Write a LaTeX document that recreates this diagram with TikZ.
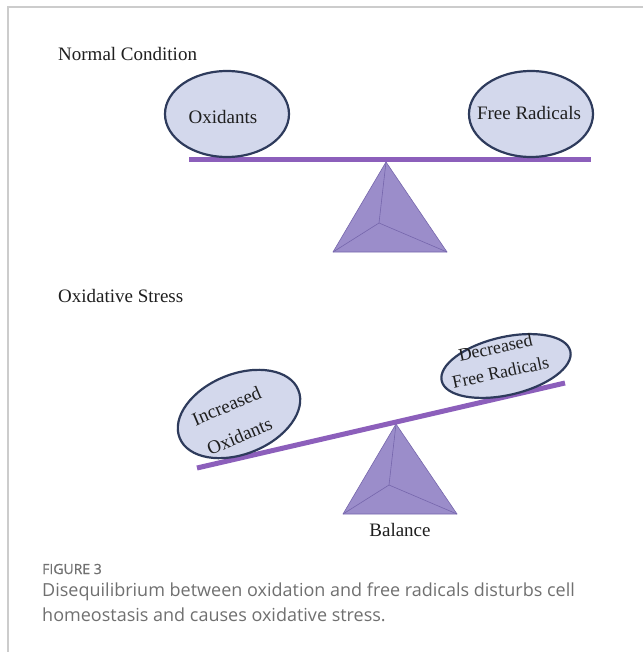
\documentclass[tikz,border=0pt]{standalone}
\usepackage{fontspec}
\setmainfont{Liberation Serif}
\newfontfamily\capfont{Open Sans}
\newfontfamily\capheadfont[FakeBold=0.6]{Open Sans}
\usetikzlibrary{shapes.geometric}
\definecolor{ellfill}{HTML}{D3D8EC}
\definecolor{elldraw}{HTML}{2E3B5C}
\definecolor{beamcol}{HTML}{8C5FBB}
\definecolor{trifill}{HTML}{9B8DCA}
\definecolor{triedge}{HTML}{7666AC}
\definecolor{framecol}{HTML}{CCCCCC}
\definecolor{capgray}{HTML}{707070}
\begin{document}
\begin{tikzpicture}[x=1pt,y=-1pt,
  weight/.style={ellipse, draw=elldraw, fill=ellfill, line width=2.2pt, inner sep=0pt},
  lbl/.style={font=\fontsize{19}{22}\selectfont, align=center, text=black!88, inner sep=0pt},
  heading/.style={font=\fontsize{19}{22}\selectfont, anchor=west, text=black!88, inner sep=0pt},
  beamline/.style={draw=beamcol, line width=5pt},
  pyramid/.style={fill=trifill, draw=triedge, line width=0.6pt, line join=round},
  facet/.style={draw=triedge, line width=0.6pt},
  framestyle/.style={draw=framecol, line width=1.6pt},
  caphead/.style={font=\capheadfont\fontsize{14}{17}\selectfont, text=capgray, anchor=west, inner sep=0pt},
  captext/.style={font=\capfont\fontsize{18}{25}\selectfont, text=capgray, anchor=north west, align=left, inner sep=0pt}]
\useasboundingbox (0,0) rectangle (643,652);
\fill[white] (0,0) rectangle (643,652);
% frame
\coordinate (fTL) at (8,7);
\coordinate (fTR) at (643,7);
\coordinate (fBL) at (8,652);
\draw[framestyle] (fTR) -- (fTL) -- (fBL);

% ---------- Normal condition ----------
\node[heading] (h1) at (58,54) {Normal Condition};
\coordinate (b1L) at (189,160);
\coordinate (b1R) at (591,160);
\coordinate (t1A) at (386,162);
\coordinate (t1L) at (333,252);
\coordinate (t1R) at (447,252);
\coordinate (t1C) at (379,223);
\filldraw[pyramid] (t1A) -- (t1L) -- (t1R) -- cycle;
\draw[facet] (t1C) -- (t1A) (t1C) -- (t1L) (t1C) -- (t1R);
\draw[beamline] (b1L) -- (b1R);
\node[weight, minimum width=124, minimum height=86] (e1) at (227,114) {};
\node[weight, minimum width=124, minimum height=86] (e2) at (531,114) {};
\node[lbl] (l1) at (223,117) {Oxidants};
\node[lbl] (l2) at (529,113) {Free Radicals};

% ---------- Oxidative stress ----------
\node[heading] (h2) at (58,296) {Oxidative Stress};
\coordinate (b2L) at (197,468);
\coordinate (b2R) at (565,383);
\coordinate (t2A) at (396,424);
\coordinate (t2L) at (343,514);
\coordinate (t2R) at (457,514);
\coordinate (t2C) at (389,485);
\filldraw[pyramid] (t2A) -- (t2L) -- (t2R) -- cycle;
\draw[facet] (t2C) -- (t2A) (t2C) -- (t2L) (t2C) -- (t2R);
\draw[beamline] (b2L) -- (b2R);
\node[weight, minimum width=128, minimum height=80, rotate=22] (e3) at (239,414) {};
\node[weight, minimum width=132, minimum height=58, rotate=13] (e4) at (506,366) {};
\node[lbl, rotate=23, font=\fontsize{19}{33}\selectfont] (l3) at (233,421) {Increased\\Oxidants};
\node[lbl, rotate=12, font=\fontsize{18}{25}\selectfont] (l4) at (498,360) {Decreased\\Free Radicals};
\node[lbl] (bal) at (400,530) {Balance};

% ---------- caption ----------
\node[caphead] (fig) at (42,569) {FIGURE 3};
\node[captext] (cap) at (42,583) {Disequilibrium between oxidation and free radicals disturbs cell\\homeostasis and causes oxidative stress.};
\end{tikzpicture}
\end{document}
